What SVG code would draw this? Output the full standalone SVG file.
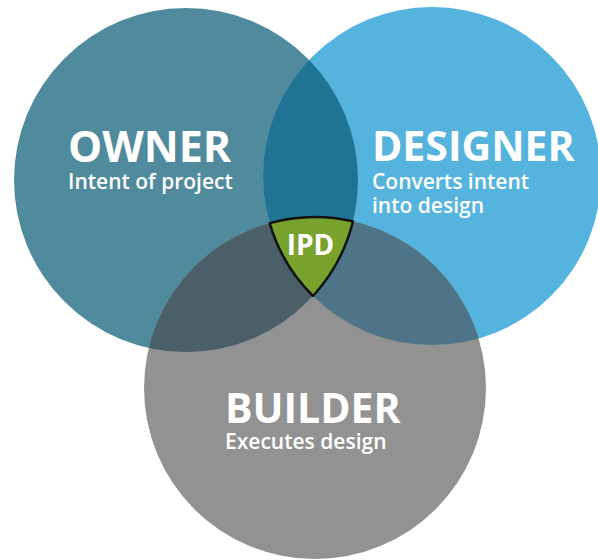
<svg xmlns="http://www.w3.org/2000/svg" width="598" height="560" viewBox="0 0 598 560">
<style>
.t{font-family:"Open Sans","Noto Sans","Liberation Sans",sans-serif;fill:#ffffff}
.h{font-weight:700}
.s{font-weight:600;font-size:21px}
</style>
<defs>
<clipPath id="cO"><circle cx="186" cy="180" r="172"/></clipPath>
<clipPath id="cD"><circle cx="432" cy="176" r="169"/></clipPath>
<clipPath id="cB"><circle cx="315" cy="388" r="171"/></clipPath>
</defs>
<rect width="598" height="560" fill="#ffffff"/>
<g id="owner">
<circle cx="186" cy="180" r="172" fill="#4f8b9c"/>
</g>
<g id="designer">
<circle cx="432" cy="176" r="169" fill="#54b4de"/>
</g>
<g id="builder">
<circle cx="315" cy="388" r="171" fill="#929292"/>
</g>
<g id="overlaps">
<circle cx="432" cy="176" r="169" fill="#1f7393" clip-path="url(#cO)"/>
<circle cx="315" cy="388" r="171" fill="#4a5f67" clip-path="url(#cO)"/>
<circle cx="315" cy="388" r="171" fill="#4d7587" clip-path="url(#cD)"/>
</g>
<g id="ipd">
<path d="M269.7,223.1 A171,171 0 0 1 353,221.3 A172,172 0 0 1 313,296 A169,169 0 0 1 269.7,223.1 Z" fill="#79a22d" stroke="#111111" stroke-width="2.5" stroke-linejoin="round"/>
<text class="t h" x="310.5" y="255" font-size="28" text-anchor="middle">IPD</text>
</g>
<g id="labels">
<text class="t h" x="68" y="162" font-size="43">OWNER</text>
<text class="t s" x="68" y="189">Intent of project</text>
<text class="t h" x="372" y="161" font-size="41">DESIGNER</text>
<text class="t s" x="372" y="189">Converts intent</text>
<text class="t s" x="372" y="213">into design</text>
<text class="t h" x="225" y="423" font-size="41">BUILDER</text>
<text class="t s" x="225" y="449">Executes design</text>
</g>
</svg>
